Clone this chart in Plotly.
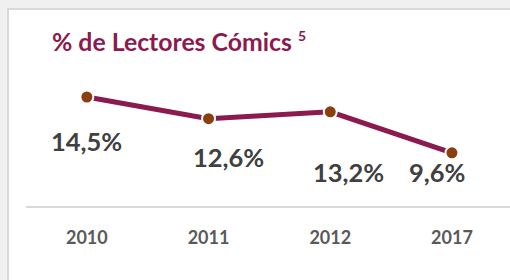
import plotly.graph_objects as go

years = ["2010", "2011", "2012", "2017"]
readers_pct = [14.5, 12.6, 13.2, 9.6]
value_labels = ["14,5%", "12,6%", "13,2%", "9,6%"]
title_text = "% de Lectores Cómics"
title_note = "5"

# label offsets (pixels) relative to each point
label_dx = [0, 20, 18, -15]
label_dy = [-44, -38, -60, -19]

LINE_COLOR = "#8B1A4F"
MARKER_COLOR = "#8A3F0E"

W, H = 510, 280
L, R, T, B = 26, 0, 10, 74


def px(xp):
    return (xp - L) / (W - L - R)


def py(yp):
    return (H - B - yp) / (H - T - B)


fig = go.Figure()
fig.add_trace(go.Scatter(
    x=years, y=readers_pct, mode="lines+markers",
    line=dict(color=LINE_COLOR, width=5),
    marker=dict(size=13, color=MARKER_COLOR, line=dict(color="white", width=2)),
    hoverinfo="skip", showlegend=False,
))

annotations = []
for i, (v, lab, dx, dy) in enumerate(zip(readers_pct, value_labels, label_dx, label_dy)):
    annotations.append(dict(
        x=i, y=v, xref="x", yref="y", text=f"<b>{lab}</b>", showarrow=False,
        xshift=dx, yshift=dy, xanchor="center", yanchor="middle",
        font=dict(family="Lato", size=25.5, color="#404040"),
    ))

annotations.append(dict(
    x=px(50), y=py(41), xref="paper", yref="paper", xanchor="left", yanchor="middle",
    text=f"<b>{title_text}</b>", showarrow=False,
    font=dict(family="Lato", size=24.8, color=LINE_COLOR),
))
annotations.append(dict(
    x=px(296), y=py(35), xref="paper", yref="paper", xanchor="left", yanchor="middle",
    text=f"<b>{title_note}</b>", showarrow=False,
    font=dict(family="Lato", size=14, color=LINE_COLOR),
))

shapes = [
    dict(type="rect", xref="paper", yref="paper", layer="below",
         x0=px(8), x1=px(600), y0=py(400), y1=py(9),
         fillcolor="white", line=dict(color="#d9d9d9", width=2)),
]

fig.update_layout(
    width=W, height=H,
    margin=dict(l=L, r=R, t=T, b=B, pad=0),
    paper_bgcolor="#f0f0f0", plot_bgcolor="rgba(0,0,0,0)",
    annotations=annotations, shapes=shapes,
    xaxis=dict(
        type="category", range=[-0.5, 3.477], showgrid=False, zeroline=False,
        showline=True, linecolor="#d9d9d9", linewidth=2,
        ticks="outside", ticklen=14, tickcolor="rgba(0,0,0,0)",
        tickfont=dict(family="Lato", size=18, color="#595959"),
        tickprefix="<b>", ticksuffix="</b>", fixedrange=True,
    ),
    yaxis=dict(range=[4.94, 22.13], visible=False, fixedrange=True),
)

fig.write_html(
    "out.html",
    config={"displayModeBar": False},
    post_script="document.body.style.margin='0';document.body.style.overflow='hidden';",
)
